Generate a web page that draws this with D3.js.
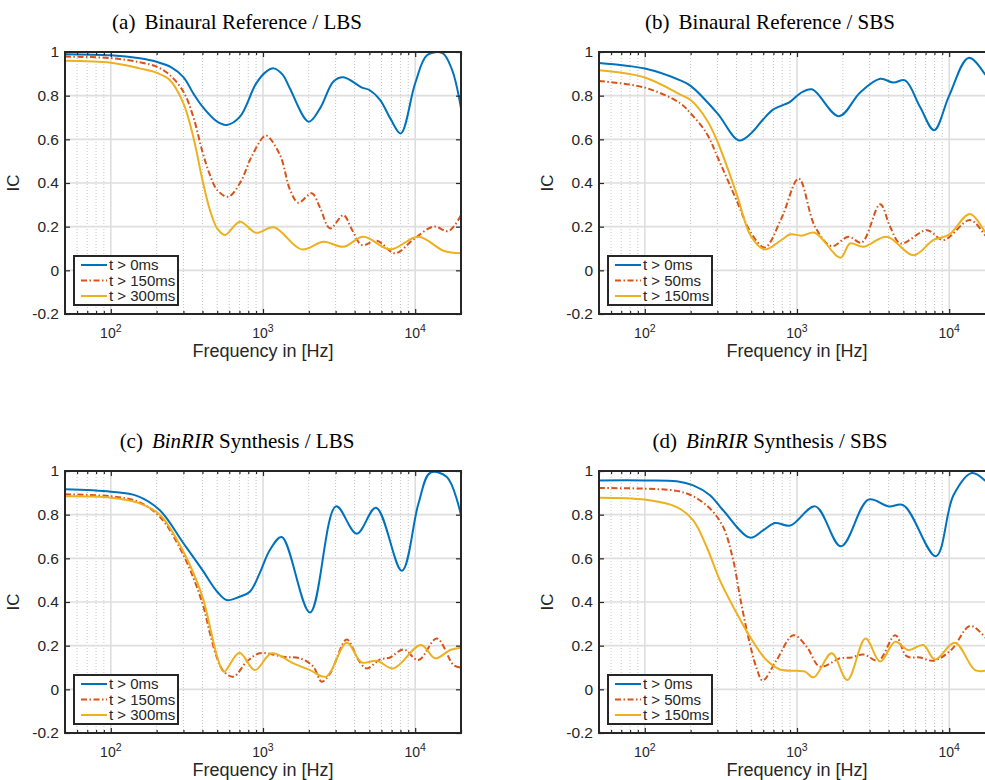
<!DOCTYPE html>
<html>
<head>
<meta charset="utf-8">
<script src="https://cdn.jsdelivr.net/npm/d3@7"></script>
<style>
  body { margin: 0; background: #fff; }
  svg text { font-family: "Liberation Sans", Arial, Helvetica, sans-serif; fill: #262626; }
</style>
</head>
<body>
<svg id="fig" width="985" height="780"></svg>
<script>
// ---- data ([frequency in Hz, IC]) ----
const yTicks = [-0.2, 0, 0.2, 0.4, 0.6, 0.8, 1];
const decades = [100, 1000, 10000];
const namesLBS = ['t > 0ms', 't > 150ms', 't > 300ms'];
const namesSBS = ['t > 0ms', 't > 50ms', 't > 150ms'];

// (a) Binaural Reference / LBS
const refLBS0 = [[50,0.99],[100,0.985],[155,0.971],[200,0.955],[250,0.93],[300,0.885],[350,0.808],[400,0.75],[500,0.681],[577,0.666],[706,0.704],[900,0.855],[1050,0.91],[1175,0.925],[1350,0.895],[1500,0.834],[1995,0.681],[2370,0.742],[2905,0.865],[3375,0.884],[4470,0.837],[5000,0.826],[5890,0.78],[6860,0.696],[8030,0.627],[10000,0.857],[12000,0.986],[15100,0.995],[17500,0.917],[20000,0.742]];
const refLBS150 = [[50,0.979],[100,0.972],[155,0.953],[200,0.933],[244,0.895],[300,0.818],[348,0.704],[400,0.543],[448,0.437],[500,0.368],[590,0.337],[706,0.4],[840,0.52],[1000,0.609],[1057,0.617],[1294,0.528],[1507,0.368],[1705,0.31],[2090,0.353],[2360,0.29],[2760,0.192],[3375,0.253],[3850,0.185],[4460,0.116],[5600,0.136],[7380,0.078],[9750,0.142],[13200,0.2],[16600,0.18],[20000,0.253]];
const refLBS300 = [[50,0.96],[100,0.951],[155,0.925],[200,0.905],[244,0.872],[300,0.765],[348,0.612],[400,0.414],[448,0.276],[500,0.192],[562,0.162],[706,0.223],[900,0.172],[1180,0.197],[1795,0.096],[2495,0.131],[3375,0.108],[4570,0.154],[6850,0.096],[10500,0.154],[15360,0.09],[20000,0.078]];

// (b) Binaural Reference / SBS
const refSBS0 = [[50,0.95],[100,0.924],[171,0.87],[200,0.845],[300,0.719],[415,0.595],[500,0.628],[600,0.692],[700,0.737],[900,0.772],[1050,0.811],[1255,0.829],[1885,0.706],[2600,0.815],[3520,0.877],[4300,0.86],[5130,0.87],[6440,0.748],[7960,0.642],[10000,0.8],[13400,0.973],[17600,0.889],[20000,0.83]];
const refSBS50 = [[50,0.867],[100,0.837],[171,0.765],[200,0.719],[255,0.627],[300,0.52],[400,0.322],[500,0.17],[615,0.105],[790,0.238],[1026,0.42],[1313,0.2],[1690,0.111],[2180,0.154],[2660,0.127],[3520,0.303],[4090,0.2],[4800,0.123],[7130,0.184],[9180,0.139],[13700,0.23],[17600,0.154],[20000,0.12]];
const refSBS150 = [[50,0.916],[100,0.883],[171,0.805],[200,0.78],[255,0.69],[300,0.59],[400,0.353],[500,0.154],[615,0.096],[790,0.139],[904,0.165],[1075,0.159],[1310,0.172],[1930,0.058],[2230,0.123],[2730,0.108],[3890,0.154],[5820,0.069],[7890,0.139],[9940,0.162],[13700,0.258],[17600,0.169],[20000,0.14]];

// (c) BinRIR Synthesis / LBS
const synLBS0 = [[50,0.916],[100,0.905],[150,0.885],[210,0.82],[300,0.669],[400,0.546],[500,0.447],[577,0.409],[700,0.424],[820,0.447],[950,0.531],[1110,0.638],[1327,0.698],[2037,0.352],[3020,0.838],[4130,0.713],[5530,0.832],[8170,0.543],[10500,0.85],[12560,0.992],[16150,0.973],[20000,0.797]];
const synLBS150 = [[50,0.893],[100,0.884],[150,0.86],[210,0.79],[300,0.615],[400,0.394],[448,0.257],[500,0.142],[553,0.081],[640,0.058],[780,0.126],[950,0.165],[1360,0.149],[1750,0.142],[2140,0.104],[2430,0.035],[2760,0.073],[3550,0.228],[4240,0.134],[4800,0.096],[5890,0.137],[6850,0.146],[8380,0.183],[10500,0.134],[13870,0.233],[17870,0.111],[20000,0.1]];
const synLBS300 = [[50,0.884],[100,0.878],[150,0.855],[210,0.8],[300,0.63],[400,0.424],[448,0.287],[500,0.15],[553,0.081],[700,0.168],[885,0.088],[1140,0.165],[1585,0.119],[2037,0.088],[2595,0.058],[3550,0.213],[4460,0.123],[5600,0.131],[7190,0.096],[10900,0.203],[13550,0.142],[17000,0.18],[20000,0.19]];

// (d) BinRIR Synthesis / SBS
const synSBS0 = [[50,0.957],[100,0.957],[162,0.953],[208,0.934],[268,0.889],[327,0.82],[491,0.695],[601,0.729],[716,0.762],[904,0.75],[1320,0.838],[1945,0.655],[2945,0.869],[3990,0.838],[5010,0.843],[8170,0.61],[10670,0.889],[14100,0.991],[17600,0.95],[20000,0.9]];
const synSBS50 = [[50,0.922],[100,0.919],[162,0.909],[208,0.884],[268,0.828],[327,0.744],[381,0.591],[422,0.424],[478,0.241],[543,0.096],[594,0.04],[735,0.134],[946,0.248],[1158,0.195],[1415,0.104],[1918,0.142],[2290,0.146],[2730,0.16],[3430,0.131],[4420,0.248],[5260,0.152],[6440,0.146],[7880,0.131],[10300,0.18],[13740,0.29],[17600,0.233],[20000,0.2]];
const synSBS150 = [[50,0.878],[100,0.869],[162,0.835],[208,0.774],[255,0.652],[311,0.5],[381,0.378],[491,0.241],[630,0.134],[773,0.091],[1000,0.085],[1130,0.081],[1290,0.055],[1690,0.165],[2140,0.043],[2820,0.233],[3520,0.127],[4420,0.218],[5400,0.18],[6760,0.203],[8060,0.137],[10900,0.213],[14800,0.088],[17600,0.085],[20000,0.085]];

// ---- styling ----
const colors = ['#0072bd', '#d95319', '#edb120'];
const dashes = [null, '6,2.5,1.5,2.5', null];
const axisCol = '#262626';

const W = 396, H = 262;   // plot area size

const panels = [
  { left: 65,  top: 52,  cx: 237, tag: '(a)', ital: '',       rest: 'Binaural Reference / LBS', names: namesLBS, series: [refLBS0, refLBS150, refLBS300] },
  { left: 599, top: 52,  cx: 770, tag: '(b)', ital: '',       rest: 'Binaural Reference / SBS', names: namesSBS, series: [refSBS0, refSBS50, refSBS150] },
  { left: 65,  top: 471, cx: 237, tag: '(c)', ital: 'BinRIR', rest: ' Synthesis / LBS',         names: namesLBS, series: [synLBS0, synLBS150, synLBS300] },
  { left: 599, top: 471, cx: 770, tag: '(d)', ital: 'BinRIR', rest: ' Synthesis / SBS',         names: namesSBS, series: [synSBS0, synSBS50, synSBS150] }
];

const svg = d3.select('#fig');

panels.forEach(drawPanel);

function drawPanel(p, k) {
  const x = d3.scaleLog().domain([50, 20000]).range([0, W]);
  const y = d3.scaleLinear().domain([-0.2, 1]).range([H, 0]);

  // title
  const t = svg.append('text')
    .attr('x', p.cx)
    .attr('y', p.top - 23)
    .attr('text-anchor', 'middle')
    .style('font-family', '"Liberation Serif", "Times New Roman", serif')
    .style('font-size', '21px')
    .style('fill', '#000');
  t.append('tspan').text(p.tag);
  if (p.ital) {
    t.append('tspan').attr('dx', 9).style('font-style', 'italic').text(p.ital);
    t.append('tspan').text(p.rest);
  } else {
    t.append('tspan').attr('dx', 9).text(p.rest);
  }

  const g = svg.append('g').attr('transform', `translate(${p.left},${p.top})`);

  g.append('rect').attr('width', W).attr('height', H).attr('fill', '#fff');

  // grid
  const allTicks = x.ticks();
  const minor = allTicks.filter(v => !decades.includes(v));

  g.selectAll('.gminor').data(minor).join('line')
    .attr('class', 'gminor')
    .attr('x1', d => x(d)).attr('x2', d => x(d))
    .attr('y1', 0).attr('y2', H)
    .attr('stroke', '#c4c4c4')
    .attr('stroke-width', 1)
    .attr('stroke-dasharray', '1,2');

  g.selectAll('.gmajx').data(decades).join('line')
    .attr('class', 'gmajx')
    .attr('x1', d => x(d)).attr('x2', d => x(d))
    .attr('y1', 0).attr('y2', H)
    .attr('stroke', '#dedede')
    .attr('stroke-width', 1.6);

  g.selectAll('.gmajy').data(yTicks).join('line')
    .attr('class', 'gmajy')
    .attr('x1', 0).attr('x2', W)
    .attr('y1', d => y(d)).attr('y2', d => y(d))
    .attr('stroke', '#dedede')
    .attr('stroke-width', 1.6);

  // curves
  const clipId = 'clip' + k;
  g.append('clipPath').attr('id', clipId)
    .append('rect').attr('width', W).attr('height', H);

  const line = d3.line()
    .x(d => x(d[0]))
    .y(d => y(d[1]))
    .curve(d3.curveCatmullRom.alpha(0.5));

  g.append('g').attr('clip-path', `url(#${clipId})`)
    .selectAll('path').data(p.series).join('path')
    .attr('d', line)
    .attr('fill', 'none')
    .attr('stroke', (d, i) => colors[i])
    .attr('stroke-width', 2)
    .attr('stroke-dasharray', (d, i) => dashes[i]);

  // axes (ticks inward)
  const yl = g.append('g').call(d3.axisLeft(y).tickValues(yTicks).tickSize(-5).tickPadding(6).tickFormat(d => String(d)));
  const yr = g.append('g').attr('transform', `translate(${W},0)`).call(d3.axisRight(y).tickValues(yTicks).tickSize(-5).tickFormat(''));
  const xb = g.append('g').attr('transform', `translate(0,${H})`).call(d3.axisBottom(x).tickValues(decades).tickSize(-5).tickFormat(''));
  const xbm = g.append('g').attr('transform', `translate(0,${H})`).call(d3.axisBottom(x).tickValues(minor).tickSize(-3).tickFormat(''));
  const xt = g.append('g').call(d3.axisTop(x).tickValues(decades).tickSize(-5).tickFormat(''));
  const xtm = g.append('g').call(d3.axisTop(x).tickValues(minor).tickSize(-3).tickFormat(''));

  [yl, yr, xb, xbm, xt, xtm].forEach(a => {
    a.select('.domain').remove();
    a.selectAll('line').attr('stroke', axisCol).attr('stroke-width', 1.2);
  });
  yl.selectAll('text').style('font-size', '15.5px').attr('fill', axisCol);

  // frame
  g.append('rect')
    .attr('width', W).attr('height', H)
    .attr('fill', 'none')
    .attr('stroke', axisCol)
    .attr('stroke-width', 2);

  // decade labels 10^n
  const lab = g.selectAll('.dec').data(decades).join('text')
    .attr('class', 'dec')
    .attr('x', d => x(d))
    .attr('y', H + 24)
    .attr('text-anchor', 'middle')
    .style('font-size', '14px');
  lab.append('tspan').text('10');
  lab.append('tspan').attr('dy', -6).style('font-size', '10.5px').text(d => Math.round(Math.log10(d)));

  // axis titles
  g.append('text')
    .attr('x', W / 2).attr('y', H + 43)
    .attr('text-anchor', 'middle')
    .style('font-size', '18px')
    .text('Frequency in [Hz]');

  g.append('text')
    .attr('transform', `translate(-46,${H / 2}) rotate(-90)`)
    .attr('text-anchor', 'middle')
    .style('font-size', '17px')
    .text('IC');

  // legend
  const lg = g.append('g').attr('transform', `translate(9,${H - 58})`);
  lg.append('rect')
    .attr('width', 104).attr('height', 49)
    .attr('fill', '#fff')
    .attr('stroke', axisCol)
    .attr('stroke-width', 2);

  p.names.forEach((name, i) => {
    const yy = 9 + i * 15.5;
    lg.append('line')
      .attr('x1', 7).attr('x2', 33)
      .attr('y1', yy).attr('y2', yy)
      .attr('stroke', colors[i])
      .attr('stroke-width', 2)
      .attr('stroke-dasharray', dashes[i]);
    lg.append('text')
      .attr('x', 35).attr('y', yy)
      .attr('dy', '0.35em')
      .style('font-size', '15px')
      .text(name);
  });
}
</script>
</body>
</html>
